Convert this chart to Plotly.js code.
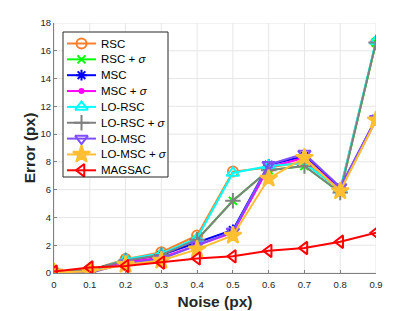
<!DOCTYPE html>
<html>
<head>
<meta charset="utf-8">
<script src="https://cdn.plot.ly/plotly-3.0.1.min.js"></script>
<style>html,body{margin:0;padding:0;background:#fff;}#chart{width:415px;height:311px;}</style>
</head>
<body>
<div id="chart"></div>
<script>
const noise = [0, 0.1, 0.2, 0.3, 0.4, 0.5, 0.6, 0.7, 0.8, 0.9];
const rsc      = [0.1, 0.2, 1.0, 1.5, 2.7, 7.3, 7.6, 8.0, 6.0, 16.6];
const rscSig   = [0.1, 0.2, 0.9, 1.3, 2.4, 5.2, 7.4, 7.7, 5.8, 16.6];
const msc      = [0.05, 0.2, 0.9, 1.3, 2.2, 3.1, 7.8, 8.4, 6.1, 11.1];
const mscSig   = [0.05, 0.2, 0.8, 1.1, 2.0, 2.9, 7.6, 8.3, 6.0, 11.0];
const loRsc    = [0.1, 0.1, 1.0, 1.4, 2.5, 7.2, 7.7, 7.9, 6.0, 16.7];
const loRscSig = [0.1, 0.2, 0.9, 1.3, 2.4, 5.2, 7.4, 7.7, 5.8, 16.6];
const loMsc    = [0.05, 0.0, 0.7, 1.0, 2.0, 3.0, 7.8, 8.6, 6.2, 11.1];
const loMscSig = [0.05, 0.1, 0.6, 0.9, 1.7, 2.7, 6.8, 8.3, 5.9, 11.0];
const magsac   = [0.1, 0.4, 0.5, 0.75, 1.05, 1.2, 1.6, 1.8, 2.25, 2.9];
const seriesNames = ['RSC', 'RSC + <i>σ</i>', 'MSC', 'MSC + <i>σ</i>', 'LO-RSC',
  'LO-RSC + <i>σ</i>', 'LO-MSC', 'LO-MSC + <i>σ</i>', 'MAGSAC'];
const xTicks = [0, 0.1, 0.2, 0.3, 0.4, 0.5, 0.6, 0.7, 0.8, 0.9];
const xTickText = ['0', '0.1', '0.2', '0.3', '0.4', '0.5', '0.6', '0.7', '0.8', '0.9'];
const yTicks = [0, 2, 4, 6, 8, 10, 12, 14, 16, 18];

const values = [rsc, rscSig, msc, mscSig, loRsc, loRscSig, loMsc, loMscSig, magsac];
const styles = [
  {color: '#FF7F2A', symbol: 'circle-open', size: 10},
  {color: '#00FF00', symbol: 'x-thin-open', size: 8},
  {color: '#0000FF', symbol: 'asterisk-open', size: 9},
  {color: '#FF00FF', symbol: 'circle', size: 4},
  {color: '#00FFFF', symbol: 'triangle-up-open', size: 11},
  {color: '#808080', symbol: 'cross-thin-open', size: 11},
  {color: '#7F4FFF', symbol: 'triangle-down-open', size: 11},
  {color: '#FFBF33', symbol: 'star', size: 13},
  {color: '#FF0000', symbol: 'triangle-left-open', size: 11}
];

const traces = values.map((v, i) => ({
  x: noise, y: v, name: seriesNames[i], type: 'scatter', mode: 'lines+markers',
  showlegend: false, hoverinfo: 'skip',
  line: {color: styles[i].color, width: 2},
  marker: {symbol: styles[i].symbol, size: styles[i].size, color: styles[i].color,
           line: {color: styles[i].color, width: 2}}
}));

// Legend box and samples, laid out in pixels of the plot area
const L = {x0: 63, x1: 168, y0: 32, y1: 177, sx0: 67, sx1: 96, tx: 99, first: 43.5, step: 15.85};
const PX = {l: 54, r: 376, t: 23, b: 273};
const toX = p => (p - PX.l) / (PX.r - PX.l) * 0.9;
const toY = p => (PX.b - p) / (PX.b - PX.t) * 18;
const annotations = [];
values.forEach((v, i) => {
  const yy = L.first + i * L.step;
  traces.push({
    x: [L.sx0, (L.sx0 + L.sx1) / 2, L.sx1].map(toX), y: [yy, yy, yy].map(toY),
    type: 'scatter', mode: 'lines', showlegend: false, hoverinfo: 'skip',
    line: {color: styles[i].color, width: 2}
  });
  traces.push({
    x: [toX((L.sx0 + L.sx1) / 2)], y: [toY(yy)],
    type: 'scatter', mode: 'markers', showlegend: false, hoverinfo: 'skip',
    marker: {symbol: styles[i].symbol, size: styles[i].size, color: styles[i].color,
             line: {color: styles[i].color, width: 2}}
  });
  annotations.push({
    x: toX(L.tx), y: toY(yy), xref: 'x', yref: 'y', xanchor: 'left', yanchor: 'middle',
    text: seriesNames[i], showarrow: false,
    font: {family: 'Liberation Sans, Arial, sans-serif', size: 11.5, color: '#000'}
  });
});

// Grid lines as shapes so the legend's white box can sit above them
const gridColor = '#e6e6e6';
const shapes = [];
xTicks.forEach(t => shapes.push({type: 'line', xref: 'x', yref: 'paper', x0: t, x1: t, y0: 0, y1: 1,
  line: {color: gridColor, width: 1}, layer: 'below'}));
yTicks.forEach(t => shapes.push({type: 'line', xref: 'paper', yref: 'y', x0: 0, x1: 1, y0: t, y1: t,
  line: {color: gridColor, width: 1}, layer: 'below'}));
shapes.push({type: 'rect', xref: 'x', yref: 'y', x0: toX(L.x0), x1: toX(L.x1), y0: toY(L.y0), y1: toY(L.y1),
  fillcolor: '#ffffff', line: {width: 0}, layer: 'below'});
shapes.push({type: 'rect', xref: 'x', yref: 'y', x0: toX(L.x0), x1: toX(L.x1), y0: toY(L.y0), y1: toY(L.y1),
  fillcolor: 'rgba(0,0,0,0)', line: {color: '#262626', width: 1}, layer: 'above'});

const layout = {
  width: 415, height: 311,
  margin: {l: 54, r: 39, t: 23, b: 38},
  paper_bgcolor: '#fff', plot_bgcolor: '#fff',
  font: {family: 'Liberation Sans, Arial, sans-serif', color: '#262626', size: 10},
  showlegend: false,
  xaxis: {
    range: [0, 0.9], tickvals: xTicks, ticktext: xTickText,
    showgrid: false, zeroline: false,
    showline: true, linecolor: '#808080', linewidth: 1,
    ticks: 'inside', ticklen: 3, tickcolor: '#808080', ticklabelstandoff: 3,
    tickfont: {size: 9.5, color: '#262626'},
    title: {text: '<b>Noise (px)</b>', font: {size: 15.5, color: '#262626'}, standoff: 6}
  },
  yaxis: {
    range: [0, 18], tickvals: yTicks,
    showgrid: false, zeroline: false,
    showline: true, linecolor: '#808080', linewidth: 1,
    ticks: 'inside', ticklen: 3, tickcolor: '#808080',
    tickfont: {size: 9.5, color: '#262626'},
    title: {text: '<b>Error (px)</b>', font: {size: 15.5, color: '#262626'}, standoff: 1}
  },
  shapes: shapes,
  annotations: annotations
};

Plotly.newPlot('chart', traces, layout, {displayModeBar: false, staticPlot: true});
</script>
</body>
</html>
